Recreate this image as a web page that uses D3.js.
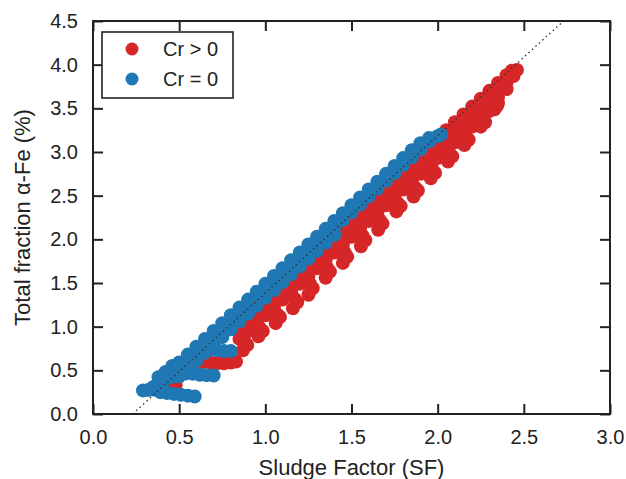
<!DOCTYPE html>
<html>
<head>
<meta charset="utf-8">
<script src="https://cdn.jsdelivr.net/npm/d3@7"></script>
<style>
  html, body { margin: 0; padding: 0; background: #fff; }
  text { font-family: "Liberation Sans", Arial, Helvetica, sans-serif; fill: #222; }
</style>
</head>
<body>
<svg id="chart" width="626" height="479"></svg>
<script>
// ---------- data ----------
const xTicks = [0.0, 0.5, 1.0, 1.5, 2.0, 2.5, 3.0];
const yTicks = [0.0, 0.5, 1.0, 1.5, 2.0, 2.5, 3.0, 3.5, 4.0, 4.5];
const xLabel = "Sludge Factor (SF)";
const yLabel = "Total fraction \u03b1-Fe (%)";
const seriesNames = ["Cr > 0", "Cr = 0"];
const seriesColors = ["#d62728", "#1f77b4"];
const refLine = [[0.23, 0.0], [2.73, 4.5]];

// Cr = 0 (blue)
const blueUpper = [[0.35,0.31],[0.38,0.42],[0.42,0.48],[0.46,0.55],[0.50,0.59],[0.55,0.68],[0.60,0.77],[0.65,0.86],[0.70,0.95],[0.75,1.04],[0.80,1.13],[0.85,1.22],[0.90,1.31],[0.95,1.40],[1.00,1.49],[1.05,1.58],[1.10,1.67],[1.15,1.76],[1.20,1.85],[1.25,1.94],[1.30,2.03],[1.35,2.12],[1.40,2.21],[1.45,2.30],[1.50,2.39],[1.55,2.48],[1.60,2.57],[1.65,2.66],[1.70,2.75],[1.75,2.84],[1.80,2.93],[1.85,3.02],[1.90,3.10],[1.95,3.16]];
const blueMiddle = [[0.40,0.33],[0.45,0.42],[0.50,0.51],[0.55,0.60],[0.60,0.69],[0.65,0.78],[0.70,0.87],[0.75,0.96],[0.80,1.05],[0.85,1.14],[0.90,1.23],[0.95,1.32],[1.00,1.41],[1.05,1.50],[1.10,1.59],[1.15,1.68],[1.20,1.77],[1.25,1.86],[1.30,1.95],[1.35,2.04],[1.40,2.13],[1.45,2.22],[1.50,2.31],[1.55,2.40],[1.60,2.49],[1.65,2.58],[1.70,2.67],[1.75,2.76],[1.80,2.85],[1.85,2.94],[1.90,3.03],[1.95,3.12],[2.00,3.18],[2.02,3.20]];
const blueLower = [[0.50,0.43],[0.55,0.52],[0.60,0.61],[0.65,0.70],[0.70,0.79],[0.75,0.88],[0.80,0.97],[0.85,1.06],[0.90,1.15],[0.95,1.24],[1.00,1.33],[1.05,1.42],[1.10,1.51],[1.15,1.60],[1.20,1.69],[1.25,1.78],[1.30,1.87],[1.35,1.96],[1.40,2.05]];
const blueStreaks = [
  [0.29,0.27],[0.32,0.275],[0.35,0.28],
  [0.39,0.25],[0.43,0.24],[0.47,0.23],[0.51,0.22],[0.55,0.21],[0.59,0.20],
  [0.50,0.47],[0.54,0.465],[0.58,0.46],[0.62,0.45],[0.66,0.445],[0.70,0.44],
  [0.68,0.74],[0.72,0.73],[0.76,0.72],[0.80,0.72]
];

// Cr > 0 (red)
const redTop = [[1.90,2.98],[1.95,3.07],[2.00,3.16],[2.05,3.25],[2.10,3.34],[2.15,3.43],[2.20,3.52],[2.25,3.61],[2.30,3.70],[2.35,3.79],[2.40,3.88],[2.43,3.93],[2.46,3.94]];
const redRow2 = [[0.85,1.01],[0.90,1.10],[0.95,1.19],[1.00,1.28],[1.05,1.37],[1.10,1.46],[1.15,1.55],[1.20,1.64],[1.25,1.73],[1.30,1.82],[1.35,1.91],[1.40,2.00],[1.45,2.09],[1.50,2.18],[1.55,2.27],[1.60,2.36],[1.65,2.45],[1.70,2.54],[1.75,2.63],[1.80,2.72],[1.85,2.81],[1.90,2.90],[1.95,2.99],[2.00,3.08],[2.05,3.17],[2.10,3.26],[2.15,3.35],[2.20,3.44],[2.25,3.53],[2.30,3.62],[2.35,3.71],[2.40,3.80],[2.44,3.87]];
const redRow3 = [[0.85,0.93],[0.90,1.02],[0.95,1.11],[1.00,1.20],[1.05,1.29],[1.10,1.38],[1.15,1.47],[1.20,1.56],[1.25,1.65],[1.30,1.74],[1.35,1.83],[1.40,1.92],[1.45,2.01],[1.50,2.10],[1.55,2.19],[1.60,2.28],[1.65,2.37],[1.70,2.46],[1.75,2.55],[1.80,2.64],[1.85,2.73],[1.90,2.82],[1.95,2.91],[2.00,3.00],[2.05,3.09],[2.10,3.18],[2.15,3.27],[2.20,3.36],[2.25,3.45],[2.30,3.54],[2.35,3.63],[2.40,3.72]];
const redRow4 = [[0.85,0.86],[0.90,0.95],[0.95,1.04],[1.00,1.13],[1.05,1.22],[1.10,1.31],[1.15,1.40],[1.20,1.49],[1.25,1.58],[1.30,1.67],[1.35,1.76],[1.40,1.85],[1.45,1.94],[1.50,2.03],[1.55,2.12],[1.60,2.21],[1.65,2.30],[1.70,2.39],[1.75,2.48],[1.80,2.57],[1.85,2.66],[1.90,2.75],[1.95,2.84],[2.00,2.93],[2.05,3.02],[2.10,3.11],[2.15,3.20],[2.20,3.29],[2.25,3.38],[2.30,3.47],[2.35,3.56]];
const redTeeth = [
  [0.87,0.73],[0.88,0.83],[0.895,0.79],
  [0.96,0.89],[0.97,0.98],[0.985,0.95],
  [1.06,1.04],[1.07,1.14],[1.085,1.11],
  [1.16,1.21],[1.17,1.32],[1.185,1.28],
  [1.25,1.365],[1.26,1.49],[1.275,1.44],
  [1.35,1.56],[1.36,1.67],[1.375,1.63],
  [1.45,1.73],[1.46,1.85],[1.475,1.80],
  [1.555,1.92],[1.565,2.04],[1.58,1.99],
  [1.655,2.11],[1.665,2.22],[1.68,2.18],
  [1.76,2.32],[1.77,2.41],[1.785,2.38],
  [1.86,2.49],[1.87,2.59],[1.885,2.56],
  [1.96,2.70],[1.97,2.80],[1.985,2.76],
  [2.06,2.89],[2.07,2.98],[2.085,2.95],
  [2.155,3.08],[2.165,3.16],[2.18,3.14],
  [2.25,3.29],[2.26,3.37],[2.275,3.34],
  [2.33,3.49],[2.345,3.53]
];
const redStreaks = [
  [0.45,0.33],[0.48,0.335],
  [0.56,0.60],[0.60,0.60],[0.64,0.595],[0.68,0.59],[0.72,0.58],[0.76,0.58],[0.80,0.59],[0.83,0.60]
];

const redPoints = [].concat(redStreaks, redRow4, redRow3, redRow2, redTop, redTeeth);
const bluePoints = [].concat(blueStreaks, blueLower, blueMiddle, blueUpper);

// ---------- drawing ----------
const svg = d3.select("#chart");
svg.append("rect").attr("width", 626).attr("height", 479).attr("fill", "#fff");

const x = d3.scaleLinear().domain([0, 3]).range([93, 610]);
const y = d3.scaleLinear().domain([0, 4.5]).range([414, 21]);
const R = 7;

svg.append("defs").append("clipPath").attr("id", "plotclip")
  .append("rect").attr("x", x(0)).attr("y", y(4.5))
  .attr("width", x(3) - x(0)).attr("height", y(0) - y(4.5));

const plot = svg.append("g").attr("clip-path", "url(#plotclip)");

plot.append("g").selectAll("circle").data(redPoints).join("circle")
  .attr("cx", d => x(d[0])).attr("cy", d => y(d[1])).attr("r", R)
  .attr("fill", seriesColors[0]);

plot.append("g").selectAll("circle").data(bluePoints).join("circle")
  .attr("cx", d => x(d[0])).attr("cy", d => y(d[1])).attr("r", R)
  .attr("fill", seriesColors[1]);

plot.append("line")
  .attr("x1", x(refLine[0][0])).attr("y1", y(refLine[0][1]))
  .attr("x2", x(refLine[1][0])).attr("y2", y(refLine[1][1]))
  .attr("stroke", "#333").attr("stroke-width", 1.4)
  .attr("stroke-dasharray", "1.5,3.2");

// axes (ticks inward on all four sides)
const fmt = d3.format(".1f");
const axB = svg.append("g").attr("transform", `translate(0,${y(0)})`)
  .call(d3.axisBottom(x).tickValues(xTicks).tickFormat(fmt).tickSizeInner(-10).tickSizeOuter(0).tickPadding(16));
const axT = svg.append("g").attr("transform", `translate(0,${y(4.5)})`)
  .call(d3.axisTop(x).tickValues(xTicks).tickFormat("").tickSizeInner(-10).tickSizeOuter(0));
const axL = svg.append("g").attr("transform", `translate(${x(0)},0)`)
  .call(d3.axisLeft(y).tickValues(yTicks).tickFormat(fmt).tickSizeInner(-10).tickSizeOuter(0).tickPadding(15));
const axR = svg.append("g").attr("transform", `translate(${x(3)},0)`)
  .call(d3.axisRight(y).tickValues(yTicks).tickFormat("").tickSizeInner(-10).tickSizeOuter(0));

[axB, axT, axL, axR].forEach(a => {
  a.select(".domain").remove();
  a.selectAll(".tick line").attr("stroke", "#222").attr("stroke-width", 2);
  a.selectAll(".tick text").attr("font-size", 20).attr("fill", "#333")
    .attr("font-family", "Liberation Sans, Arial, sans-serif");
});

svg.append("rect")
  .attr("x", x(0)).attr("y", y(4.5))
  .attr("width", x(3) - x(0)).attr("height", y(0) - y(4.5))
  .attr("fill", "none").attr("stroke", "#222").attr("stroke-width", 2);

// axis labels
svg.append("text")
  .attr("x", (x(0) + x(3)) / 2).attr("y", 475)
  .attr("text-anchor", "middle").attr("font-size", 22).attr("fill", "#333")
  .text(xLabel);

svg.append("text")
  .attr("transform", `translate(30,${(y(0) + y(4.5)) / 2}) rotate(-90)`)
  .attr("text-anchor", "middle").attr("font-size", 22).attr("fill", "#333")
  .text(yLabel);

// legend
const lg = svg.append("g");
lg.append("rect").attr("x", 102).attr("y", 32).attr("width", 131).attr("height", 66)
  .attr("fill", "#fff").attr("stroke", "#222").attr("stroke-width", 1.6);
seriesNames.forEach((name, i) => {
  lg.append("circle").attr("cx", 132).attr("cy", 49 + i * 30).attr("r", 6.5)
    .attr("fill", seriesColors[i]);
  lg.append("text").attr("x", 163).attr("y", 56 + i * 30)
    .attr("font-size", 20).attr("fill", "#333").text(name);
});
</script>
</body>
</html>
